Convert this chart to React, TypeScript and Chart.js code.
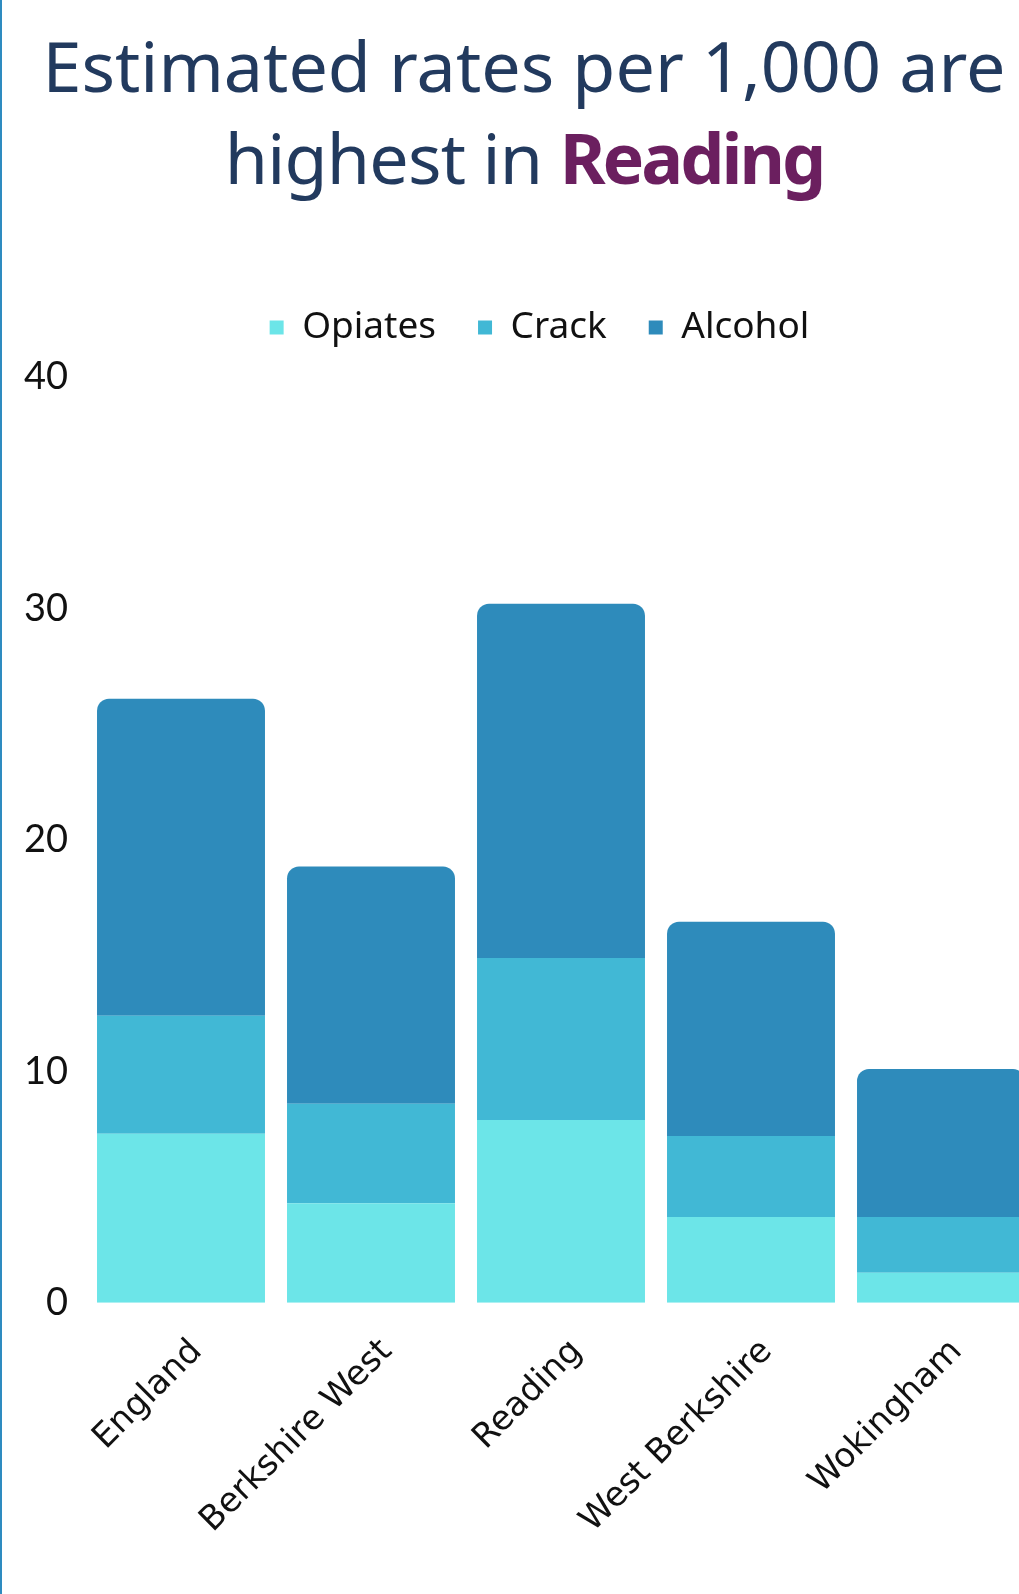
import React, { useEffect, useRef } from "react";
import { Chart, registerables } from "chart.js";

Chart.register(...registerables);

const categories = ["England", "Berkshire West", "Reading", "West Berkshire", "Wokingham"];
const opiates = [7.3, 4.3, 7.9, 3.7, 1.3];
const crack = [5.1, 4.3, 7.0, 3.5, 2.4];
const alcohol = [13.7, 10.25, 15.3, 9.26, 6.4];
const yTicks = [0, 10, 20, 30, 40];

const legendTweak = {
  id: "legendTweak",
  beforeInit(chart: any) {
    const lg = chart.legend;
    if (!lg) return;
    const origFit = lg.fit;
    lg.fit = function () {
      origFit.call(this);
      this.height += 21;
    };
  },
  afterLayout(chart: any) {
    const lg = chart.legend;
    if (!lg) return;
    lg.left += 10;
    lg.right += 10;
  },
};

export default function App() {
  const ref = useRef<HTMLCanvasElement | null>(null);

  useEffect(() => {
    if (!ref.current) return;
    const chart = new Chart(ref.current, {
      type: "bar",
      data: {
        labels: categories,
        datasets: [
          { label: "Opiates", data: opiates, backgroundColor: "#6ce5e8", borderWidth: 0 },
          { label: "Crack", data: crack, backgroundColor: "#41b8d5", borderWidth: 0 },
          {
            label: "Alcohol",
            data: alcohol,
            backgroundColor: "#2e8bbb",
            borderWidth: 0,
            borderRadius: { topLeft: 12, topRight: 12, bottomLeft: 0, bottomRight: 0 },
            borderSkipped: false,
          },
        ],
      },
      plugins: [legendTweak],
      options: {
        responsive: false,
        animation: false,
        layout: { padding: { left: 20, right: 10, top: 37, bottom: 24 } },
        datasets: { bar: { categoryPercentage: 1, barPercentage: 0.884 } },
        plugins: {
          legend: {
            position: "top",
            labels: {
              boxWidth: 14,
              boxHeight: 14,
              padding: 42,
              color: "#111",
              font: { family: "'Noto Sans', sans-serif", size: 37 },
            },
          },
          tooltip: { enabled: false },
        },
        scales: {
          x: {
            stacked: true,
            grid: { display: false, drawTicks: false },
            border: { display: false },
            ticks: {
              maxRotation: 45,
              minRotation: 45,
              color: "#111",
              padding: 29,
              labelOffset: 16,
              font: { family: "'DejaVu Sans', sans-serif", size: 34 },
            },
          },
          y: {
            stacked: true,
            min: 0,
            max: 40,
            afterFit: (s: any) => {
              s.width = 63;
            },
            afterBuildTicks: (s: any) => {
              s.ticks = yTicks.map((v) => ({ value: v }));
            },
            grid: { display: false, drawTicks: false },
            border: { display: false },
            ticks: {
              padding: 18,
              color: "#111",
              font: { family: "Lato, sans-serif", size: 38 },
            },
          },
        },
      },
    });
    return () => chart.destroy();
  }, []);

  return (
    <div style={{ position: "absolute", left: 0, top: 0, width: 1019, height: 1594, overflow: "hidden", background: "#fff" }}>
      <div style={{ position: "absolute", left: 0, top: 0, width: 2, height: 1594, background: "#2e8bc0" }} />
      <div
        style={{
          position: "absolute",
          left: 3,
          top: 19,
          width: 1042,
          textAlign: "center",
          fontFamily: "'Noto Sans', sans-serif",
          fontSize: 70,
          lineHeight: "92px",
          color: "#223a5e",
        }}
      >
        <div>Estimated rates per 1,000 are</div>
        <div>
          <span style={{ letterSpacing: "-0.8px" }}>highest in </span>
          <span style={{ fontWeight: 700, color: "#6b1f5f", letterSpacing: "-3px" }}>Reading</span>
        </div>
      </div>
      <canvas ref={ref} width={1043} height={1364} style={{ position: "absolute", left: 3, top: 230 }} />
    </div>
  );
}
